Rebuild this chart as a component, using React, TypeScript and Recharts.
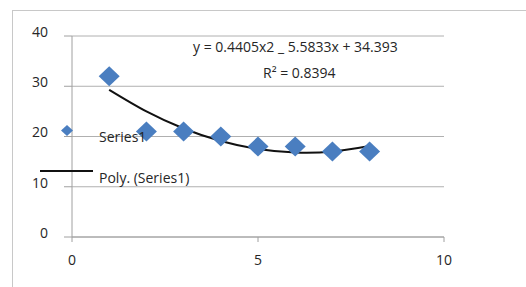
import { CartesianGrid, ComposedChart, Line, Scatter, XAxis, YAxis } from "recharts";

// observed points (Series1)
const xValues = [1, 2, 3, 4, 5, 6, 7, 8];
const yValues = [32, 21, 21, 20, 18, 18, 17, 17];

// polynomial trendline, values at each x
const trendValues = [29.3, 25.0, 21.6, 19.1, 17.5, 16.8, 17.0, 18.1];

const xTicks = [0, 5, 10];
const yTicks = [0, 10, 20, 30, 40];

const equationText = "y = 0.4405x2 _ 5.5833x + 34.393";
const rSquaredText = "R² = 0.8394";
const seriesName = "Series1";
const trendName = "Poly. (Series1)";

const points = xValues.map((x, i) => ({ x, y: yValues[i] }));
const trend = xValues.map((x, i) => ({ x, t: trendValues[i] }));

const FONT = "'Open Sans', sans-serif";
const TEXT = "#262626";
const BLUE = "#4a7ec0";

const Diamond = (props: any) => {
  const { cx, cy } = props;
  if (cx == null || cy == null) return null;
  const w = 10.5;
  const h = 10;
  return (
    <polygon
      points={`${cx},${cy - h} ${cx + w},${cy} ${cx},${cy + h} ${cx - w},${cy}`}
      fill={BLUE}
    />
  );
};

const YTick = (props: any) => {
  const { x, y, payload } = props;
  return (
    <text x={x - 14} y={y - 4} dy="0.35em" textAnchor="end" fill={TEXT} fontSize={14} fontFamily={FONT}>
      {payload.value}
    </text>
  );
};

const XTick = (props: any) => {
  const { x, y, payload } = props;
  return (
    <text x={x} y={y + 16} dy="0.35em" textAnchor="middle" fill={TEXT} fontSize={14} fontFamily={FONT}>
      {payload.value}
    </text>
  );
};

const label = (left: number, top: number) => ({
  position: "absolute" as const,
  left,
  top,
  fontFamily: FONT,
  fontSize: 14,
  lineHeight: "16px",
  color: TEXT,
  whiteSpace: "nowrap" as const,
});

export default function App() {
  return (
    <div style={{ position: "absolute", left: 0, top: 0, width: 526, height: 287, overflow: "hidden", background: "#fff" }}>
      <div
        style={{
          position: "absolute",
          left: 12,
          top: 10,
          width: 520,
          height: 290,
          borderTop: "1px solid #c8c8c8",
          borderLeft: "1px solid #c8c8c8",
        }}
      />
      <ComposedChart
        width={526}
        height={287}
        margin={{ top: 36, right: 82, bottom: 20, left: 0 }}
        style={{ position: "absolute", left: 0, top: 0 }}
      >
        <CartesianGrid vertical={false} stroke="#b0b0b0" />
        <XAxis
          type="number"
          dataKey="x"
          domain={[0, 10]}
          ticks={xTicks}
          height={30}
          tickSize={5}
          stroke="#a0a0a0"
          tick={<XTick />}
          allowDataOverflow
        />
        <YAxis
          type="number"
          domain={[0, 40]}
          ticks={yTicks}
          width={72}
          tickSize={8}
          stroke="#a0a0a0"
          tick={<YTick />}
        />
        <Scatter data={points} dataKey="y" shape={<Diamond />} isAnimationActive={false} />
        <Line
          data={trend}
          dataKey="t"
          type="natural"
          stroke="#111"
          strokeWidth={2}
          dot={false}
          activeDot={false}
          isAnimationActive={false}
        />
      </ComposedChart>
      <div style={label(193, 39)}>{equationText}</div>
      <div style={label(263, 65)}>{rSquaredText}</div>
      <svg style={{ position: "absolute", left: 0, top: 0 }} width={526} height={287}>
        <polygon points="67,125 73,130.5 67,136 61,130.5" fill={BLUE} />
        <line x1={40} y1={171} x2={93} y2={171} stroke="#111" strokeWidth={2} />
      </svg>
      <div style={label(99, 129)}>{seriesName}</div>
      <div style={label(99, 170)}>{trendName}</div>
    </div>
  );
}
